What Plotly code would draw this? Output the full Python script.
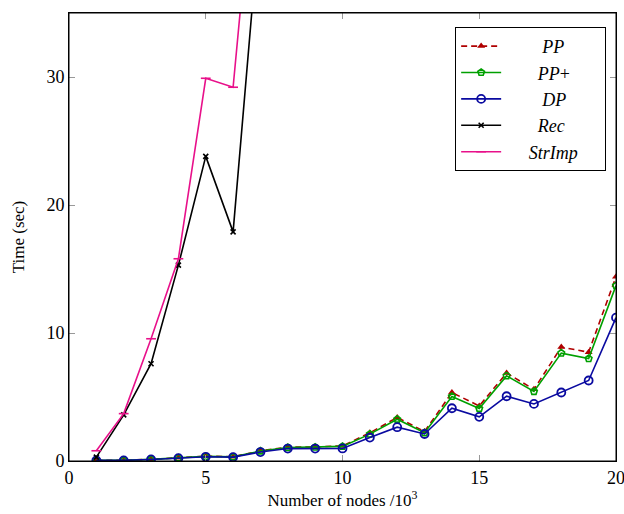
import plotly.graph_objects as go

nodes = list(range(1, 21))
pp = [0.05, 0.05, 0.13, 0.25, 0.38, 0.33, 0.8, 1.08, 1.1, 1.18, 2.2, 3.4, 2.3, 5.35, 4.3, 6.87, 5.6, 8.9, 8.5, 14.4]
ppplus = [0.05, 0.05, 0.13, 0.24, 0.36, 0.32, 0.78, 1.05, 1.08, 1.14, 2.1, 3.26, 2.2, 5.04, 4.1, 6.65, 5.43, 8.43, 8.0, 13.7]
dp = [0.05, 0.05, 0.12, 0.22, 0.33, 0.3, 0.7, 0.97, 0.97, 0.98, 1.83, 2.64, 2.11, 4.12, 3.45, 5.06, 4.46, 5.35, 6.29, 11.2]
rec_nodes = [1, 2, 3, 4, 5, 6, 7]
rec = [0.3, 3.6, 7.6, 15.3, 23.8, 17.9, 43.0]
strimp = [0.8, 3.7, 9.55, 15.8, 29.9, 29.2, 52.0]

series_names = ["<i>PP</i>", "<i>PP</i>+", "<i>DP</i>", "<i>Rec</i>", "<i>StrImp</i>"]
name_pad = [(8, 0), (7, 0), (8, 0), (7, 0), (5, 5)]
xticks = [0, 5, 10, 15, 20]
yticks = [0, 10, 20, 30]

font = "Liberation Serif"
NB = "\u00a0"
labels = [NB * a + n + NB * b for n, (a, b) in zip(series_names, name_pad)]

fig = go.Figure()
fig.add_trace(go.Scatter(x=nodes, y=pp, name=labels[0], mode="lines+markers",
                         line=dict(color="#b00000", width=1.6, dash="6px,4px"),
                         marker=dict(symbol="triangle-up", size=7, color="#b00000")))
fig.add_trace(go.Scatter(x=nodes, y=ppplus, name=labels[1], mode="lines+markers",
                         line=dict(color="#00a000", width=1.6),
                         marker=dict(symbol="pentagon-open", size=7, color="#00a000", line=dict(width=1.6))))
fig.add_trace(go.Scatter(x=nodes, y=dp, name=labels[2], mode="lines+markers",
                         line=dict(color="#0a0aa0", width=1.6),
                         marker=dict(symbol="circle-open", size=8, color="#0a0aa0", line=dict(width=1.8))))
fig.add_trace(go.Scatter(x=rec_nodes, y=rec, name=labels[3], mode="lines+markers",
                         line=dict(color="black", width=1.6),
                         marker=dict(symbol="x-thin-open", size=5, color="black", line=dict(width=1.6))))
fig.add_trace(go.Scatter(x=rec_nodes, y=strimp, name=labels[4], mode="lines+markers",
                         line=dict(color="#e8108a", width=1.6),
                         marker=dict(symbol="line-ew-open", size=7, color="#e8108a", line=dict(width=1.6))))

axis_common = dict(showgrid=False, zeroline=False, showline=True, linecolor="black", linewidth=1,
                   mirror="ticks", ticks="inside", ticklen=6, tickcolor="#999999", tickwidth=1,
                   tickfont=dict(family=font, size=18, color="black"), automargin=False,
                   ticklabeloverflow="allow")

fig.update_layout(
    width=624, height=514,
    margin=dict(l=69, r=8, t=13, b=53),
    paper_bgcolor="white", plot_bgcolor="white",
    font=dict(family=font, color="black"),
    xaxis=dict(range=[0, 20], tickvals=xticks,
               title=dict(text="Number of nodes /10<sup>3</sup>", font=dict(family=font, size=17), standoff=6),
               **axis_common),
    yaxis=dict(range=[0, 35], tickvals=yticks,
               title=dict(text="Time (sec)", font=dict(family=font, size=17), standoff=17),
               **axis_common),
    legend=dict(x=0.982, y=0.969, xanchor="right", yanchor="top",
                bordercolor="black", borderwidth=1, bgcolor="white",
                font=dict(family=font, size=18), tracegroupgap=0, itemwidth=40),
    showlegend=True,
    shapes=[dict(type="rect", xref="paper", yref="paper", x0=0, y0=0, x1=1, y1=1,
                 line=dict(color="black", width=1), layer="above")],
)

fig.write_html("out.html", config={"displayModeBar": False},
               post_script="document.body.style.margin='0';document.body.style.overflow='hidden';")
